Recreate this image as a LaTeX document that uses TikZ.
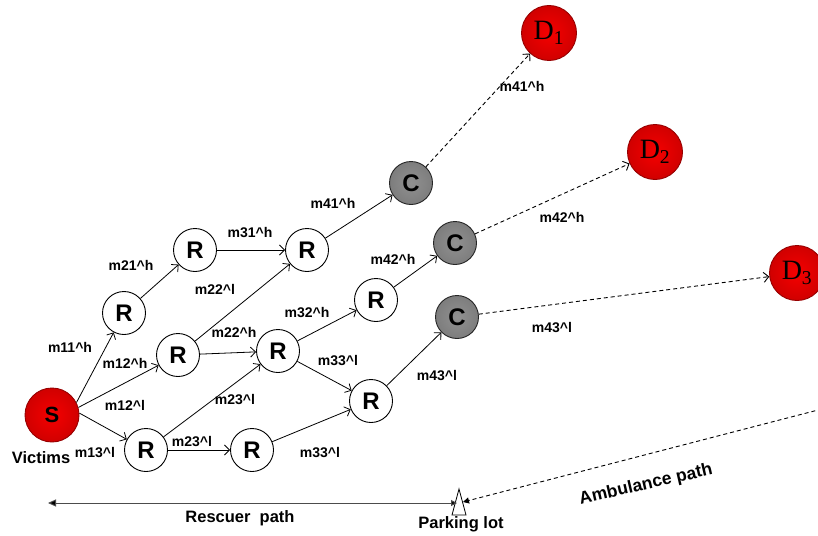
\documentclass[tikz,border=0pt]{standalone}
\usepackage{fontspec}
\setmainfont{Liberation Sans}
\newfontfamily\destfont{Liberation Serif}
\usetikzlibrary{arrows.meta}
\newcommand\mlab[2]{m#1\textasciicircum #2}

\definecolor{hotred}{RGB}{245,0,0}
\definecolor{darkred}{RGB}{150,0,0}
\definecolor{cgray}{RGB}{125,125,125}

\tikzset{
  relay/.style={circle, draw=black, line width=0.9pt, fill=white,
    minimum size=43pt, inner sep=0pt, font=\bfseries\fontsize{24}{24}\selectfont},
  collect/.style={circle, draw=black!85, line width=0.9pt,
    inner color=cgray!85!white, outer color=cgray,
    minimum size=43pt, inner sep=0pt, font=\bfseries\fontsize{24}{24}\selectfont},
  source/.style={circle, draw=darkred, line width=0.9pt,
    inner color=hotred, outer color=hotred!85!black,
    minimum size=54pt, inner sep=0pt, font=\bfseries\fontsize{22}{22}\selectfont},
  dest/.style={circle, draw=darkred, line width=0.9pt,
    inner color=hotred, outer color=hotred!85!black,
    minimum size=55pt, inner sep=0pt, font=\destfont\fontsize{28}{28}\selectfont},
  link/.style={-{Straight Barb[length=5pt,width=10pt]}, line width=0.8pt},
  haul/.style={-{Straight Barb[length=5pt,width=10pt]}, line width=0.9pt,
    dash pattern=on 4pt off 3pt},
  lab/.style={font=\bfseries\fontsize{14}{14}\selectfont, inner sep=0pt},
  big/.style={font=\bfseries\fontsize{16.5}{16.5}\selectfont, inner sep=0pt},
}

\begin{document}
\begin{tikzpicture}[x=1pt,y=-1pt]
\useasboundingbox (0,0) rectangle (818,535);

% victims (source)
\node[source] (S) at (52,415) {S};
\node[big] (victims) at (41,458) {Victims};

% rescuer relay nodes
\node[relay] (r1) at (124,313) {R};
\node[relay] (r2) at (195,250) {R};
\node[relay] (r3) at (178,355) {R};
\node[relay] (r4) at (146,450) {R};
\node[relay] (r5) at (307,250) {R};
\node[relay] (r6) at (278,351) {R};
\node[relay] (r7) at (376,300) {R};
\node[relay] (r8) at (371,401) {R};
\node[relay] (r9) at (252,450) {R};

% collection points
\node[collect] (c1) at (411,183) {C};
\node[collect] (c2) at (455,243) {C};
\node[collect] (c3) at (457,317) {C};

% destinations
\node[dest] (d1) at (549,33) {D\textsubscript{1}};
\node[dest] (d2) at (655,152) {D\textsubscript{2}};
\node[dest] (d3) at (797,273) {D\textsubscript{3}};

% rescuer links
\draw[link] (S.27) -- (r1);
\draw[link] (S.16) -- (r3);
\draw[link] (S.4) -- (r4);
\draw[link] (r1) -- (r2);
\draw[link] (r2) -- (r5);
\draw[link] (r3) -- (r5);
\draw[link] (r3) -- (r6);
\draw[link] (r4) -- (r6);
\draw[link] (r4) -- (r9);
\draw[link] (r6) -- (r7);
\draw[link] (r6) -- (r8);
\draw[link] (r9) -- (r8);
\draw[link] (r5) -- (c1);
\draw[link] (r7) -- (c2);
\draw[link] (r8) -- (c3);

% ambulance hauls
\draw[haul] (c1) -- (d1);
\draw[haul] (c2) -- (d2);
\draw[haul] (c3) -- (d3);

% link labels
\node[lab] (l11h) at (70,347) {\mlab{11}{h}};
\node[lab] (l12h) at (125,363) {\mlab{12}{h}};
\node[lab] (l12l) at (125,405) {\mlab{12}{l}};
\node[lab] (l13l) at (95,452) {\mlab{13}{l}};
\node[lab] (l21h) at (131,265) {\mlab{21}{h}};
\node[lab] (l31h) at (250,233) {\mlab{31}{h}};
\node[lab] (l22l) at (215,289) {\mlab{22}{l}};
\node[lab] (l22h) at (234,332) {\mlab{22}{h}};
\node[lab] (l23lu) at (235,399) {\mlab{23}{l}};
\node[lab] (l23ll) at (192,441) {\mlab{23}{l}};
\node[lab] (l32h) at (307,313) {\mlab{32}{h}};
\node[lab] (l33lu) at (338,361) {\mlab{33}{l}};
\node[lab] (l33ll) at (320,452) {\mlab{33}{l}};
\node[lab] (l41h) at (333,203) {\mlab{41}{h}};
\node[lab] (l42h) at (393,259) {\mlab{42}{h}};
\node[lab] (l43l) at (437,376) {\mlab{43}{l}};
\node[lab] (h41h) at (522,86) {\mlab{41}{h}};
\node[lab] (h42h) at (562,217) {\mlab{42}{h}};
\node[lab] (h43l) at (552,328) {\mlab{43}{l}};

% parking lot marker
\draw[line width=0.8pt, fill=white] (459,489) -- (466,515) -- (452,515) -- cycle;
\coordinate (lotL) at (457,503);
\coordinate (lotR) at (463,502);
\coordinate (rescEnd) at (48,503);
\coordinate (ambStart) at (822,409);
\node[big] (lot) at (461,524) {Parking lot};

% rescuer and ambulance paths
\draw[black!70, line width=1pt, {Triangle[length=8pt,width=7pt,fill=black]}-{Triangle[length=6pt,width=6pt,fill=black]}]
  (rescEnd) -- (lotL);
\node[big] (resc) at (240,518) {Rescuer\ \ path};
\draw[line width=0.9pt, dash pattern=on 4pt off 3pt, -{Triangle[length=6pt,width=6pt]}]
  (ambStart) -- (lotR);
\node[font=\bfseries\fontsize{17.5}{17.5}\selectfont, inner sep=0pt, rotate=13] (amb) at (646,485) {Ambulance path};
\end{tikzpicture}
\end{document}
